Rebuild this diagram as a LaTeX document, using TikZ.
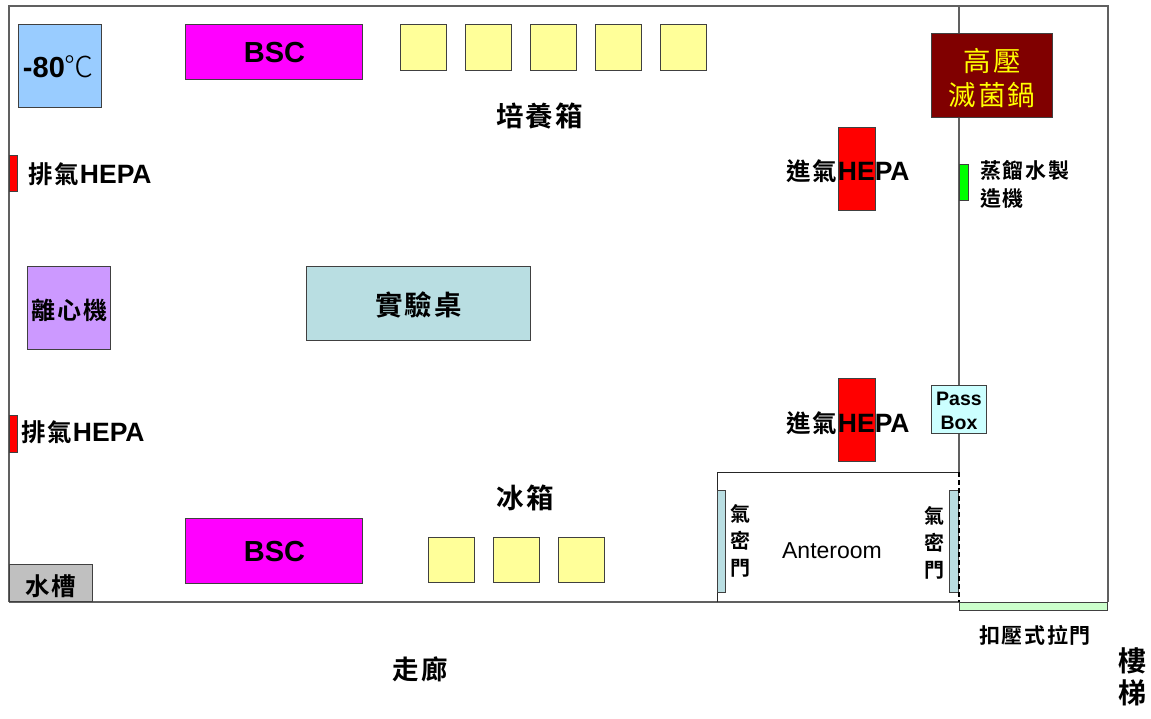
\documentclass[tikz,border=0pt]{standalone}
\usepackage{fontspec}
\setmainfont{Liberation Sans}
\newfontfamily\cjk[LetterSpace=8]{Noto Sans CJK TC Bold}
\newfontfamily\cjkr[LetterSpace=8]{Noto Sans CJK TC}
\newfontfamily\cjkt{Noto Sans CJK TC Light}
\newcommand{\fsz}[1]{\fontsize{#1}{#1}\selectfont}
\definecolor{wallc}{HTML}{606060}
\definecolor{benchc}{HTML}{B9DEE2}
\definecolor{yellowc}{HTML}{FFFF99}
\definecolor{magc}{HTML}{FF00FF}
\definecolor{bluec}{HTML}{99CCFF}
\definecolor{purplec}{HTML}{CC99FF}
\definecolor{sinkc}{HTML}{C0C0C0}
\definecolor{autoc}{HTML}{800000}
\definecolor{autot}{HTML}{FFFF00}
\definecolor{passc}{HTML}{CCFFFF}
\definecolor{slidec}{HTML}{CCFFCC}
\definecolor{vapc}{HTML}{00FF00}
\tikzset{
  x=1pt,y=-1pt,
  wall/.style={draw=wallc,line width=1.5pt},
  thinwall/.style={draw=black!85,line width=0.9pt},
  box/.style={draw=black!75,line width=1pt,inner sep=0pt,outer sep=0pt,anchor=north west},
  lab/.style={inner sep=0pt,outer sep=0pt,text=black,align=center},
  cjklab/.style={lab,font=\cjk\fsz{27.5}},
  hepalab/.style={lab,font=\cjk\fsz{24.5},anchor=west},
  bsc/.style={lab,font=\bfseries\fsz{29}},
}
\newcommand{\hepatxt}{\hspace{1pt}{\normalfont\bfseries\fsz{26.5}HEPA}}
\newcommand{\bx}[6]{\node[box,fill=#6,minimum width=#4pt-#2pt-0.7pt,minimum height=#5pt-#3pt-0.7pt] (#1) at (#2,#3) {};}
\begin{document}
\begin{tikzpicture}
\useasboundingbox (0,0) rectangle (1151,718);
\fill[white] (0,0) rectangle (1151,718);
% walls
\coordinate (tl) at (9,6); \coordinate (tr) at (1108,6);
\coordinate (br) at (1108,602); \coordinate (bl) at (9,602);
\coordinate (dt) at (959,6); \coordinate (dm) at (959,472); \coordinate (db) at (959,602);
\coordinate (al) at (717,472); \coordinate (ab) at (717,602);
\draw[wall] (bl) -- (tl) -- (tr) -- (br);
\draw[wall] (dt) -- (dm);
\draw[wall] (bl) -- (db);
\draw[thinwall] (ab) -- (al) -- (dm);
% doors
\bx{doorL}{717}{490}{726}{593}{benchc}
\bx{doorR}{949}{490}{959}{593}{benchc}
\draw[black,line width=1.4pt,dash pattern=on 5pt off 3pt] (dm) -- (db);
\bx{slide}{959}{602}{1108}{611}{slidec}
% equipment
\bx{freezer}{18}{24}{102}{108}{bluec}
\bx{bscT}{185}{24}{363}{80}{magc}
\bx{bscB}{185}{518}{363}{584}{magc}
\bx{incA}{400}{24}{447}{71}{yellowc}
\bx{incB}{465}{24}{512}{71}{yellowc}
\bx{incC}{530}{24}{577}{71}{yellowc}
\bx{incD}{595}{24}{642}{71}{yellowc}
\bx{incE}{660}{24}{707}{71}{yellowc}
\bx{frA}{428}{537}{475}{583}{yellowc}
\bx{frB}{493}{537}{540}{583}{yellowc}
\bx{frC}{558}{537}{605}{583}{yellowc}
\bx{bench}{306}{266}{531}{341}{benchc}
\bx{centri}{27}{266}{111}{350}{purplec}
\bx{exA}{9}{155}{18}{192}{red}
\bx{exB}{9}{415}{18}{453}{red}
\bx{sink}{9}{564}{93}{602}{sinkc}
\bx{inA}{838}{127}{876}{211}{red}
\bx{inB}{838}{378}{876}{462}{red}
\bx{auto}{931}{33}{1053}{118}{autoc}
\bx{still}{959}{164}{969}{201}{vapc}
\bx{pass}{931}{385}{987}{434}{passc}
% labels
\node[lab,anchor=west] (tFreezer) at (23,67) {\fsz{29}\bfseries -80{\cjkt\mdseries\fsz{29}℃}};
\node[bsc] (tBscT) at (274.5,53) {BSC};
\node[bsc] (tBscB) at (274.5,552) {BSC};
\node[cjklab] (tInc) at (539.5,116) {培養箱};
\node[cjklab] (tFr) at (525,498) {冰箱};
\node[cjklab] (tBench) at (418.5,305) {實驗桌};
\node[lab,font=\cjk\fsz{24}] (tCentri) at (69.5,310) {離心機};
\node[hepalab] (tExA) at (28,174) {排氣\hepatxt};
\node[hepalab] (tExB) at (21,432) {排氣\hepatxt};
\node[hepalab] (tInA) at (786,171) {進氣\hepatxt};
\node[hepalab] (tInB) at (786,423) {進氣\hepatxt};
\node[lab,font=\cjkr\fsz{27.5},text=autot] (tAuto) at (992,78) {高壓\\[6pt]滅菌鍋};
\node[lab,align=left,anchor=north west,font=\cjk\fsz{21}] (tStill) at (980,160) {蒸餾水製\\[7pt]造機};
\node[lab,font=\bfseries\fsz{19.5}] (tPass) at (959,411) {Pass\\[4pt]Box};
\node[lab,font=\fsz{23}] (tAnte) at (832,551) {Anteroom};
\node[lab,font=\cjk\fsz{20}] (tDoorL) at (740,541) {氣\\[7pt]密\\[7pt]門};
\node[lab,font=\cjk\fsz{20}] (tDoorR) at (934,543) {氣\\[7pt]密\\[7pt]門};
\node[lab,font=\cjk\fsz{24.5}] (tSink) at (51,586) {水槽};
\node[lab,font=\cjk\fsz{21}] (tSlide) at (1035,635) {扣壓式拉門};
\node[lab,font=\cjk\fsz{26.5}] (tCorr) at (420,669) {走廊};
\node[lab,font=\cjk\fsz{28}] (tStair) at (1132.5,677) {樓\\[4pt]梯};
\end{tikzpicture}
\end{document}
